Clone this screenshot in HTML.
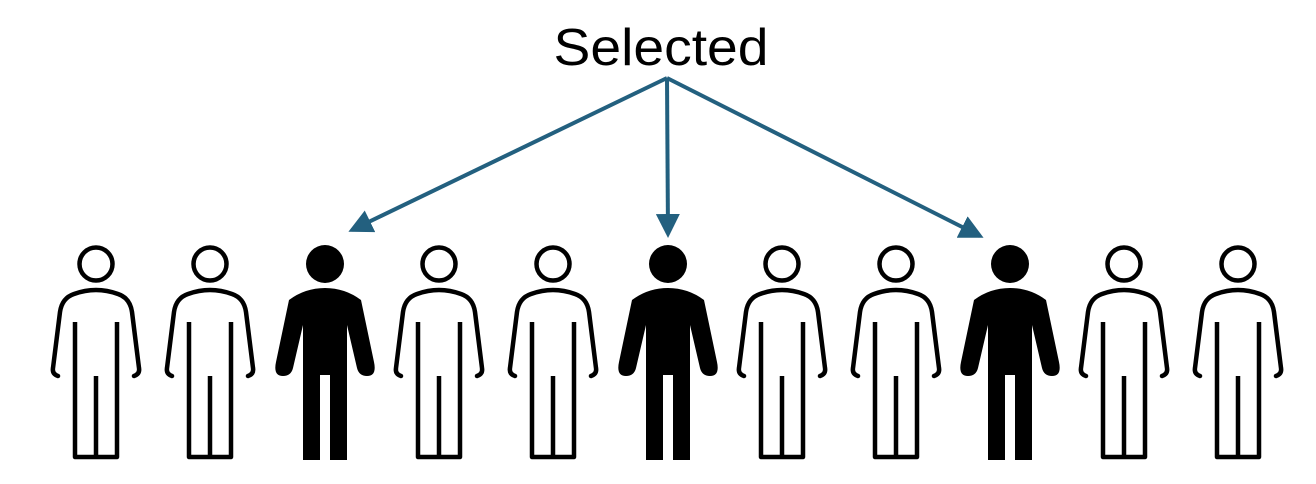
<!DOCTYPE html>
<html><head><style>html,body{margin:0;padding:0;background:#fff;}svg{display:block}</style></head>
<body>
<svg width="1316" height="484" viewBox="0 0 1316 484" xmlns="http://www.w3.org/2000/svg">
<defs>
<marker id="ah" markerWidth="6" markerHeight="6" refX="5" refY="3" orient="auto" markerUnits="strokeWidth">
<path d="M0,0 L6,3 L0,6 Z" fill="#23607f"/></marker>
<g id="o" fill="none" stroke="#000" stroke-width="4.5" stroke-linecap="round" stroke-linejoin="round">
<circle cx="0" cy="264" r="16.5"/>
<path d="M-38,376 Q-44,374 -43,368 L-36,312 Q-34,298 -22,294 Q0,286 22,294 Q34,298 36,312 L43,368 Q44,374 38,376"/>
<path d="M-21,322 L-21,457 L21,457 L21,322 M0,376 L0,457" stroke-linecap="butt"/>
</g>
<g id="f" fill="#000">
<circle cx="0" cy="264" r="19"/>
<path d="M-36,300 Q-20,288 0,288 Q20,288 36,300 L49,362 Q52,376 42,376 Q34,376 32,368 L22,325 L22,460 L5,460 L5,375 L-5,375 L-5,460 L-22,460 L-22,325 L-32,368 Q-34,376 -42,376 Q-52,376 -49,362 Z"/>
</g>
</defs>
<text x="661" y="65" font-family="Liberation Sans, sans-serif" font-size="52" text-anchor="middle" textLength="215" lengthAdjust="spacingAndGlyphs">Selected</text>
<g stroke="#23607f" stroke-width="4" fill="none">
<line x1="667" y1="78" x2="352" y2="230" marker-end="url(#ah)"/>
<line x1="667" y1="78" x2="668" y2="234" marker-end="url(#ah)"/>
<line x1="667" y1="78" x2="980" y2="236" marker-end="url(#ah)"/>
</g>
<use href="#o" x="96"/>
<use href="#o" x="210"/>
<use href="#f" x="325"/>
<use href="#o" x="439"/>
<use href="#o" x="553"/>
<use href="#f" x="668"/>
<use href="#o" x="782"/>
<use href="#o" x="896"/>
<use href="#f" x="1010"/>
<use href="#o" x="1124"/>
<use href="#o" x="1238"/>
</svg>
</body></html>
